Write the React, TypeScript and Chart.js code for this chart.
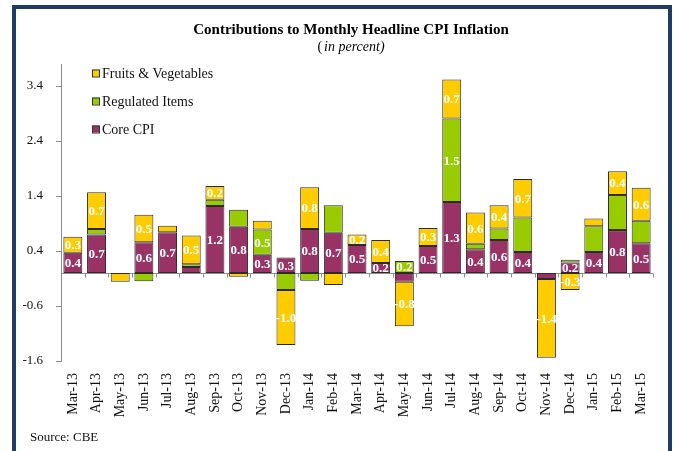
import React, { useEffect, useRef } from "react";
import { Chart, registerables } from "chart.js";

Chart.register(...registerables);

const categories = [
  "Mar-13", "Apr-13", "May-13", "Jun-13", "Jul-13", "Aug-13", "Sep-13", "Oct-13", "Nov-13",
  "Dec-13", "Jan-14", "Feb-14", "Mar-14", "Apr-14", "May-14", "Jun-14", "Jul-14", "Aug-14",
  "Sep-14", "Oct-14", "Nov-14", "Dec-14", "Jan-15", "Feb-15", "Mar-15",
];

const coreCPI = [
  0.37, 0.7, 0, 0.56, 0.74, 0.11, 1.22, 0.84, 0.33, 0.28, 0.8, 0.73, 0.51, 0.18, -0.16, 0.49,
  1.29, 0.43, 0.6, 0.38, -0.11, 0.19, 0.38, 0.78, 0.54,
];
const regulatedItems = [
  0, 0.1, 0, -0.15, 0, 0.05, 0.11, 0.31, 0.46, -0.31, -0.14, 0.5, 0, 0, 0.22, 0, 1.52, 0.1,
  0.21, 0.63, 0, 0.05, 0.47, 0.64, 0.41,
];
const fruitsVeg = [
  0.29, 0.67, -0.16, 0.5, 0.12, 0.52, 0.25, -0.07, 0.16, -1.0, 0.76, -0.22, 0.19, 0.42, -0.81,
  0.33, 0.71, 0.57, 0.42, 0.7, -1.43, -0.31, 0.14, 0.43, 0.6,
];

// data labels shown on the segments (null = no label)
const coreLabels = [
  "0.4", "0.7", null, "0.6", "0.7", null, "1.2", "0.8", "0.3", "0.3", "0.8", "0.7", "0.5", "0.2",
  null, "0.5", "1.3", "0.4", "0.6", "0.4", null, "0.2", "0.4", "0.8", "0.5",
];
const regulatedLabels = [
  null, null, null, null, null, null, null, null, "0.5", null, null, null, null, null, "0.2",
  null, "1.5", null, null, null, null, null, null, null, null,
];
const fruitsLabels = [
  "0.3", "0.7", null, "0.5", null, "0.5", "0.2", null, null, "-1.0", "0.8", null, "0.2", "0.4",
  "-0.8", "0.3", "0.7", "0.6", "0.4", "0.7", "-1.4", "-0.3", null, "0.4", "0.6",
];

const yTickValues = [-1.6, -0.6, 0.4, 1.4, 2.4, 3.4];
const yTickLabels = ["-1.6", "-0.6", "0.4", "1.4", "2.4", "3.4"];

const titleText = "Contributions to Monthly Headline CPI Inflation";
const subtitleText = "in percent";
const sourceText = "Source: CBE";

const SERIF = "'Liberation Serif', 'Times New Roman', serif";
const COLORS = { fruits: "#FFCC00", regulated: "#99CC00", core: "#993366" };

const decorPlugin = {
  id: "decor",
  beforeDatasetsDraw(chart: any) {
    const { ctx, chartArea } = chart;
    const xs = chart.scales.x;
    const ys = chart.scales.y;
    const y0 = Math.round(ys.getPixelForValue(0)) + 0.5;
    ctx.save();
    ctx.strokeStyle = "#8c8c8c";
    ctx.lineWidth = 1;
    ctx.beginPath();
    ctx.moveTo(chartArea.left, y0);
    ctx.lineTo(chartArea.right, y0);
    const n = xs.getLabels().length;
    for (let i = 0; i <= n; i++) {
      const x = Math.round(xs.left + (i * xs.width) / n) + 0.5;
      ctx.moveTo(x, y0);
      ctx.lineTo(x, y0 + 4);
    }
    ctx.stroke();
    ctx.restore();
  },
  afterDatasetsDraw(chart: any) {
    const { ctx } = chart;
    ctx.save();
    ctx.fillStyle = "#ffffff";
    ctx.font = `bold 13px ${SERIF}`;
    ctx.textAlign = "center";
    ctx.textBaseline = "middle";
    chart.data.datasets.forEach((ds: any, d: number) => {
      const meta = chart.getDatasetMeta(d);
      (ds.segLabels || []).forEach((lab: string | null, i: number) => {
        if (!lab) return;
        const el = meta.data[i];
        if (!el) return;
        const { x, y, base } = el.getProps(["x", "y", "base"], true);
        ctx.fillText(lab, x, (y + base) / 2 + 1);
      });
    });
    ctx.restore();
  },
  afterDraw(chart: any) {
    const { ctx, chartArea } = chart;
    ctx.save();
    // legend inside plot area
    const items = [...chart.data.datasets].reverse();
    ctx.font = `14px ${SERIF}`;
    ctx.textBaseline = "middle";
    ctx.textAlign = "left";
    items.forEach((ds: any, i: number) => {
      const cy = chartArea.top + 9 + i * 28;
      const bx = chartArea.left + 31;
      ctx.fillStyle = ds.backgroundColor;
      ctx.fillRect(bx, cy - 3.5, 7, 7);
      ctx.strokeStyle = "#333";
      ctx.lineWidth = 1;
      ctx.strokeRect(bx + 0.5, cy - 3.5 + 0.5, 7, 7);
      ctx.fillStyle = "#111";
      ctx.fillText(ds.label, bx + 10, cy + 1);
    });
    // title
    const cx = 351;
    ctx.textAlign = "center";
    ctx.textBaseline = "alphabetic";
    ctx.fillStyle = "#000";
    ctx.font = `bold 15px ${SERIF}`;
    ctx.fillText(titleText, cx, 34);
    // subtitle: "(" upright, rest italic
    ctx.font = `14px ${SERIF}`;
    const wp = ctx.measureText("(").width;
    ctx.font = `italic 14px ${SERIF}`;
    const wr = ctx.measureText(subtitleText + ")").width;
    const sx = cx - (wp + 2 + wr) / 2;
    ctx.textAlign = "left";
    ctx.font = `14px ${SERIF}`;
    ctx.fillText("(", sx, 51);
    ctx.font = `italic 14px ${SERIF}`;
    ctx.fillText(subtitleText + ")", sx + wp + 2, 51);
    // source
    ctx.font = `13px ${SERIF}`;
    ctx.fillStyle = "#111";
    ctx.fillText(sourceText, 30, 441);
    ctx.restore();
  },
};

export default function App() {
  const ref = useRef<HTMLCanvasElement | null>(null);

  useEffect(() => {
    if (!ref.current) return;
    const segStyle = { borderColor: "#2b2b2b", borderWidth: 1, borderSkipped: false as const };
    const chart = new Chart(ref.current, {
      type: "bar",
      data: {
        labels: categories,
        datasets: [
          { label: "Core CPI", data: coreCPI, backgroundColor: COLORS.core, segLabels: coreLabels, ...segStyle } as any,
          { label: "Regulated Items", data: regulatedItems, backgroundColor: COLORS.regulated, segLabels: regulatedLabels, ...segStyle } as any,
          { label: "Fruits & Vegetables", data: fruitsVeg, backgroundColor: COLORS.fruits, segLabels: fruitsLabels, ...segStyle } as any,
        ],
      },
      options: {
        responsive: false,
        animation: false,
        layout: { padding: { left: 12, right: 20, top: 64, bottom: 0 } },
        datasets: { bar: { categoryPercentage: 1, barPercentage: 0.8 } },
        plugins: { legend: { display: false }, tooltip: { enabled: false }, title: { display: false } },
        scales: {
          x: {
            stacked: true,
            grid: { display: false, drawTicks: false },
            border: { display: false },
            ticks: {
              autoSkip: false,
              minRotation: 90,
              maxRotation: 90,
              padding: 12,
              color: "#111",
              font: { family: SERIF, size: 14 },
            },
            afterFit: (s: any) => {
              s.height = 90;
            },
          },
          y: {
            stacked: true,
            min: -1.6,
            max: 3.8,
            afterBuildTicks: (s: any) => {
              s.ticks = yTickValues.map((v) => ({ value: v }));
            },
            afterFit: (s: any) => {
              s.width = 49;
            },
            grid: { drawOnChartArea: false, drawTicks: true, tickLength: 5, color: "#8c8c8c" },
            border: { display: true, color: "#8c8c8c" },
            ticks: {
              padding: 13,
              color: "#111",
              font: { family: SERIF, size: 13 },
              callback: (_v: any, i: number) => yTickLabels[i],
            },
          },
        },
      },
      plugins: [decorPlugin],
    });
    return () => chart.destroy();
  }, []);

  return (
    <div style={{ position: "fixed", left: 0, top: 0, width: 673, height: 451, background: "#fff", overflow: "hidden" }}>
      <div
        style={{
          position: "absolute",
          left: 12,
          top: 5,
          width: 652,
          height: 460,
          borderLeft: "4px solid #1F3B66",
          borderTop: "4px solid #1F3B66",
          borderRight: "4px solid #1F3B66",
        }}
      />
      <canvas ref={ref} width={673} height={451} style={{ position: "absolute", left: 0, top: 0, width: 673, height: 451 }} />
    </div>
  );
}
